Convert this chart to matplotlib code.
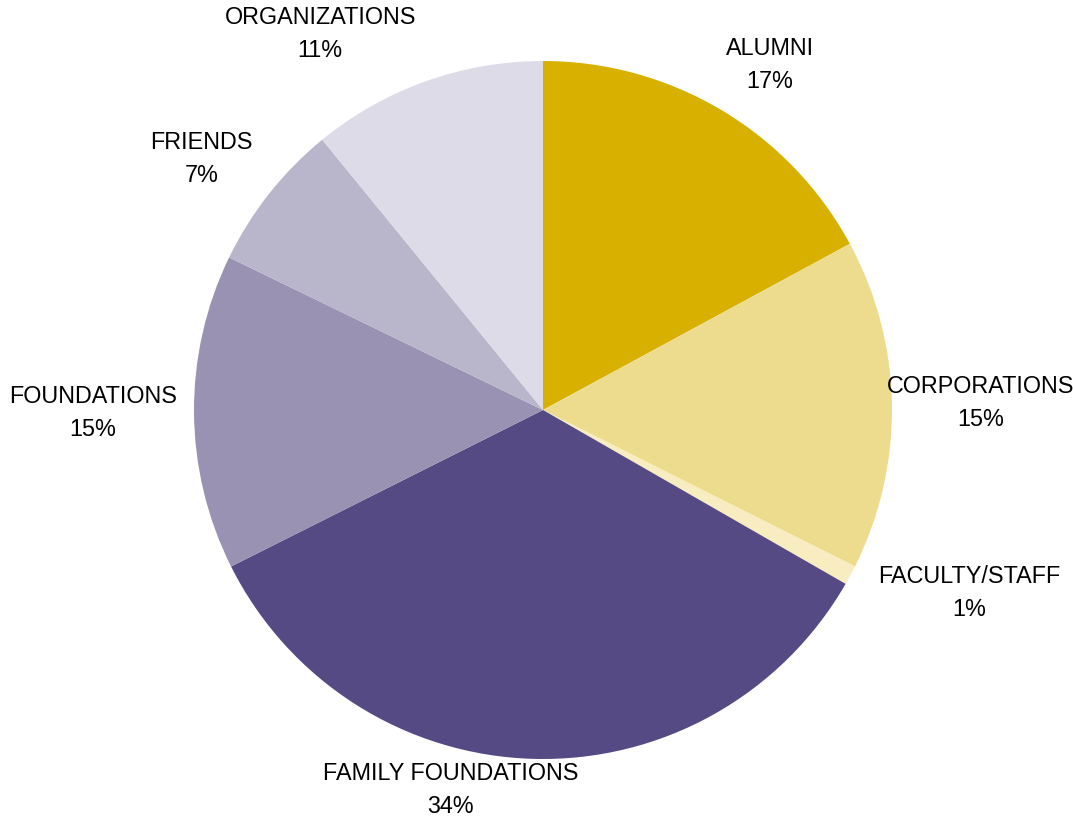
import numpy as np
import matplotlib.pyplot as plt

# Datenanteile (gelesen aus dem Bild), im Uhrzeigersinn ab 12 Uhr
categories = ["ALUMNI", "CORPORATIONS", "FACULTY/STAFF", "FAMILY FOUNDATIONS",
              "FOUNDATIONS", "FRIENDS", "ORGANIZATIONS"]
shares = [17.1, 15.3, 0.9, 34.3, 14.6, 6.9, 10.9]
colors = ["#D8B100", "#EEDC8E", "#F7EDC0", "#564A84",
          "#9A92B2", "#B9B6CB", "#DDDBE8"]

# Beschriftungsabstand und Winkelverschiebung je Segment
label_dist = [1.183, 1.255, 1.33, 1.12, 1.29, 1.215, 1.253]
label_shift = [-2.5, 0, 5, -12, 0, 2, 11]

fig = plt.figure(figsize=(10.73, 8.18), dpi=100)
ax = fig.add_axes([0, 0, 1, 1])

cx, cy, r = 543, 410, 349
W, H = 1073, 818

wedges, _ = ax.pie(shares, colors=colors, startangle=90, counterclock=False,
                   radius=1.0, center=(0, 0))

for w, name, val, d, s in zip(wedges, categories, shares, label_dist, label_shift):
    ang = np.deg2rad((w.theta1 + w.theta2) / 2 + s)
    x, y = d * np.cos(ang), d * np.sin(ang)
    ax.text(x, y, f"{name}\n{round(val):.0f}%", ha="center", va="center",
            fontsize=16.8, family=["Liberation Sans", "DejaVu Sans"],
            linespacing=1.55, color="#000000")

ax.set_xlim(-cx / r, (W - cx) / r)
ax.set_ylim(-(H - cy) / r, cy / r)
ax.set_aspect("auto")
ax.axis("off")

fig.savefig("out.png", dpi=100)
